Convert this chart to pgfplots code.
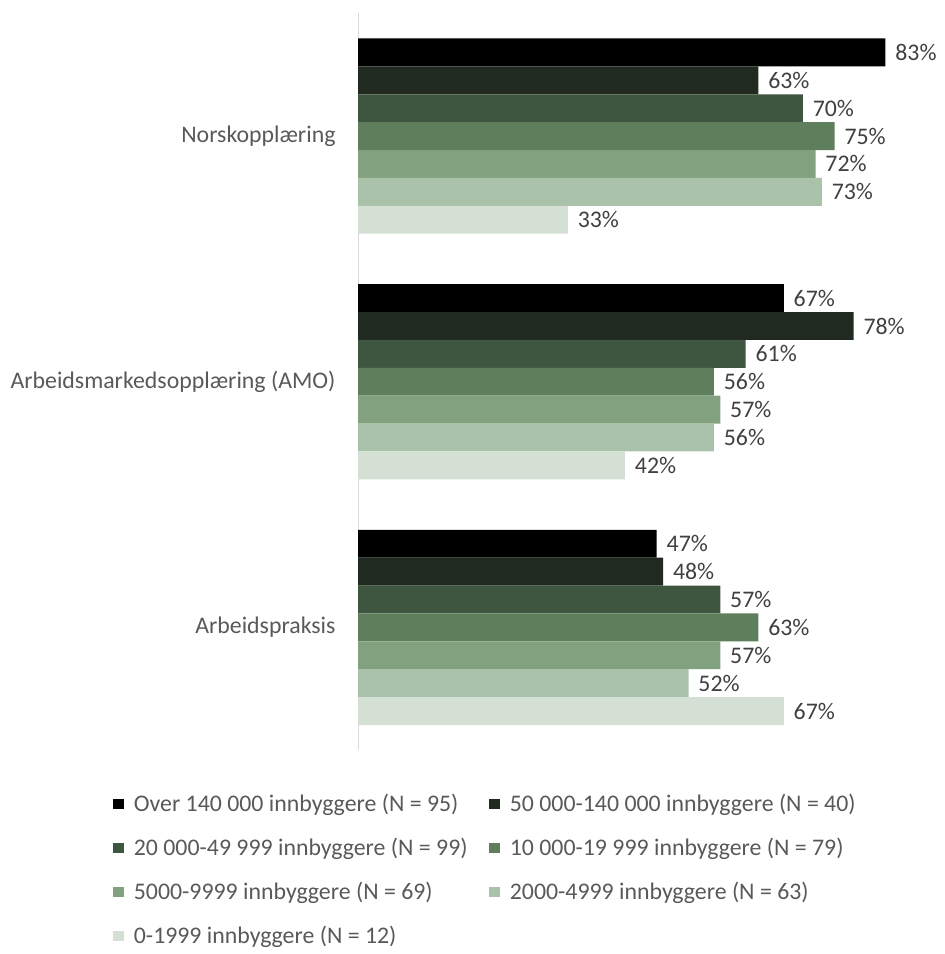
\documentclass[border=0pt]{standalone}
\usepackage{fontspec}
\setmainfont{Carlito}
\usepackage{pgfplots}
\pgfplotsset{compat=1.18}

\definecolor{cA}{HTML}{000000}
\definecolor{cB}{HTML}{202A20}
\definecolor{cC}{HTML}{3E5640}
\definecolor{cD}{HTML}{5E7E5C}
\definecolor{cE}{HTML}{82A27F}
\definecolor{cF}{HTML}{AAC2AA}
\definecolor{cG}{HTML}{D4E0D4}
\definecolor{labelgray}{HTML}{595959}
\definecolor{valgray}{HTML}{404040}
\definecolor{axisgray}{HTML}{D9D9D9}

\newcommand{\chartfont}{\fontsize{18}{22}\selectfont}

\begin{document}
\begin{tikzpicture}
\begin{axis}[
  name=ax,
  xbar=0pt,
  bar width=0.1135,
  scale only axis,
  width=432pt, height=557pt,
  xmin=0, xmax=90,
  ymin=-0.5, ymax=2.5,
  y dir=reverse,
  ytick={0,1,2},
  yticklabels={Norskopplæring, Arbeidsmarkedsopplæring (AMO), Arbeidspraksis},
  axis x line=none,
  axis y line*=left,
  y axis line style={draw=axisgray, line width=1pt},
  major tick length=0pt,
  ytick style={draw=none},
  yticklabel style={font=\chartfont, text=labelgray, inner sep=0pt, xshift=-17pt},
  /pgf/number format/assume math mode=true,
  point meta=x,
  nodes near coords={\pgfmathprintnumber{\pgfplotspointmeta}\%},
  every node near coord/.append style={font=\chartfont, text=valgray, anchor=west, xshift=4pt},
  every axis plot post/.append style={
    legend image code/.code={\fill[##1] (0pt,-4pt) rectangle (8.25pt,4.25pt); \path (14pt,0pt);}
  },
  legend columns=2,
  legend cell align=left,
  legend style={
    at={(-0.43,-0.056)}, anchor=north west,
    draw=none, fill=none, inner sep=0pt,
    font=\chartfont, text=labelgray,
    /tikz/every even column/.append style={column sep=14pt},
    row sep=14.6pt,
  },
]
\addplot[fill=cA, draw=none] coordinates {(83,0) (67,1) (47,2)};
\addplot[fill=cB, draw=none] coordinates {(63,0) (78,1) (48,2)};
\addplot[fill=cC, draw=none] coordinates {(70,0) (61,1) (57,2)};
\addplot[fill=cD, draw=none] coordinates {(75,0) (56,1) (63,2)};
\addplot[fill=cE, draw=none] coordinates {(72,0) (57,1) (57,2)};
\addplot[fill=cF, draw=none] coordinates {(73,0) (56,1) (52,2)};
\addplot[fill=cG, draw=none] coordinates {(33,0) (42,1) (67,2)};
\legend{Over 140 000 innbyggere (N = 95),
        50 000-140 000 innbyggere (N = 40),
        20 000-49 999 innbyggere (N = 99),
        10 000-19 999 innbyggere (N = 79),
        5000-9999 innbyggere (N = 69),
        2000-4999 innbyggere (N = 63),
        0-1999 innbyggere (N = 12)}
\end{axis}
\pgfresetboundingbox
\path[use as bounding box] ([shift={(-270.75pt,-154pt)}]ax.south west) rectangle ([shift={(443.25pt,567pt)}]ax.south west);
\end{tikzpicture}
\end{document}
